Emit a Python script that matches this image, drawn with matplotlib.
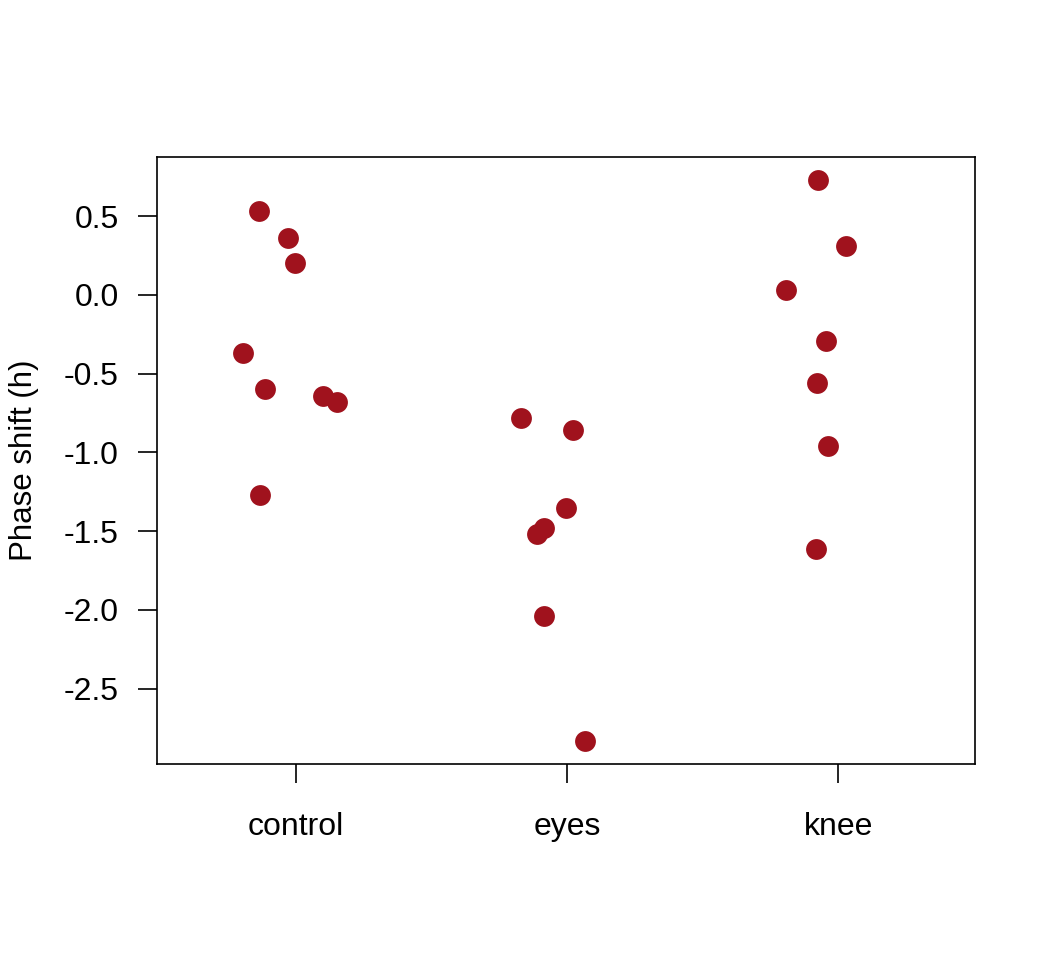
import matplotlib
matplotlib.use("Agg")
import matplotlib.pyplot as plt

GROUPS = ["control", "eyes", "knee"]
CONTROL = [0.53, 0.36, 0.20, -0.37, -0.60, -0.64, -0.68, -1.27]
EYES = [-0.78, -0.86, -1.35, -1.48, -1.52, -2.04, -2.83]
KNEE = [0.73, 0.31, 0.03, -0.29, -0.56, -0.96, -1.61]
# horizontal jitter (group units)
CONTROL_JIT = [-0.137, -0.030, -0.004, -0.196, -0.114, 0.100, 0.151, -0.133]
EYES_JIT = [-0.170, 0.022, -0.004, -0.085, -0.111, -0.085, 0.066]
KNEE_JIT = [-0.074, 0.030, -0.192, -0.044, -0.077, -0.037, -0.081]
Y_TICKS = [0.5, 0.0, -0.5, -1.0, -1.5, -2.0, -2.5]

COLOR = "#A0121D"

plt.rcParams["font.family"] = ["Liberation Sans", "DejaVu Sans"]

fig = plt.figure(figsize=(10.56, 9.6), dpi=100)
ax = fig.add_axes([157 / 1056, 1 - 764 / 960, 818 / 1056, 607 / 960])

series = [(CONTROL, CONTROL_JIT), (EYES, EYES_JIT), (KNEE, KNEE_JIT)]
for i, (vals, jit) in enumerate(series, start=1):
    xs = [i + j for j in jit]
    ax.plot(xs, vals, "o", color=COLOR, markersize=15, markeredgewidth=0)

ax.set_xlim(0.487, 3.505)
ax.set_ylim(-2.978, 0.876)
ax.set_xticks([1, 2, 3])
ax.set_xticklabels(GROUPS)
ax.set_yticks(Y_TICKS)
ax.set_yticklabels([f"{v:.1f}" for v in Y_TICKS])
ax.tick_params(axis="both", length=13.5, width=1.2, labelsize=23, pad=14)
ax.tick_params(axis="x", pad=21)
ax.set_ylabel("Phase shift (h)", fontsize=22.5, labelpad=18)
for s in ax.spines.values():
    s.set_linewidth(1.2)

fig.savefig("out.png", dpi=100)
